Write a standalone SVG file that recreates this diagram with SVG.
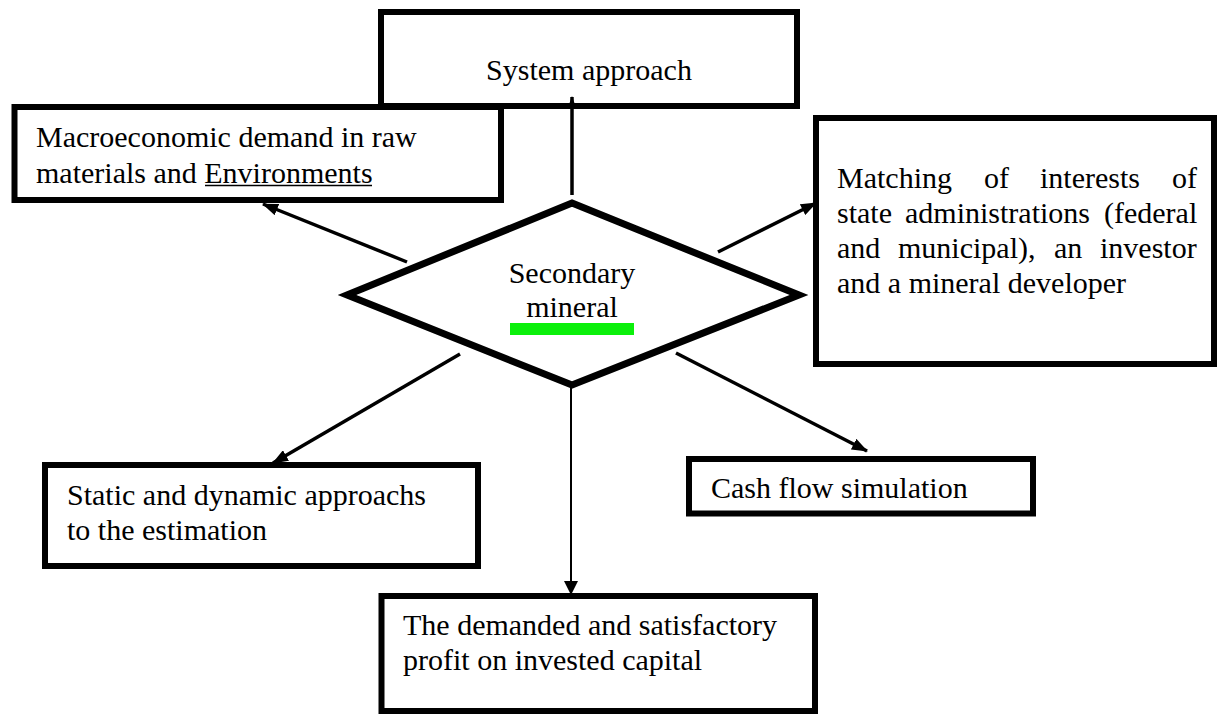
<svg xmlns="http://www.w3.org/2000/svg" width="1218" height="715" viewBox="0 0 1218 715">
<style>
.box{fill:#fff;stroke:#000;stroke-width:6}
.dia{fill:#fff;stroke:#000;stroke-width:7;stroke-linejoin:miter}
.t{font-family:"Liberation Serif","Times New Roman",serif;font-size:30px;fill:#000}
.c{fill:none;stroke:#000;stroke-width:3.5}
.thin{fill:none;stroke:#000;stroke-width:2}
.ul{stroke:#000;stroke-width:1.5}
</style>
<defs>
<marker id="arr" markerUnits="userSpaceOnUse" viewBox="0 0 16 12" markerWidth="16" markerHeight="12" refX="15" refY="6" orient="auto">
<path d="M0,0 L16,6 L0,12 z" fill="#000"/>
</marker>
<marker id="arrS" markerUnits="userSpaceOnUse" viewBox="0 0 13 9" markerWidth="13" markerHeight="9" refX="12" refY="4.5" orient="auto">
<path d="M0,0 L13,4.5 L0,9 z" fill="#000"/>
</marker>
<marker id="arrD" markerUnits="userSpaceOnUse" viewBox="0 0 14 14" markerWidth="14" markerHeight="14" refX="13" refY="7" orient="auto">
<path d="M0,0 L14,7 L0,14 z" fill="#000"/>
</marker>
</defs>

<g id="system-approach">
<rect class="box" x="381" y="12" width="416" height="94"/>
<text class="t" x="589" y="80" text-anchor="middle">System approach</text>
</g>

<g id="macroeconomic">
<rect class="box" x="14.5" y="107" width="486.5" height="93"/>
<text class="t" x="36" y="147">Macroeconomic demand in raw</text>
<text class="t" x="36" y="183">materials and Environments</text>
<line class="ul" x1="205" y1="185.5" x2="372" y2="185.5"/>
</g>

<g id="matching">
<rect class="box" x="816" y="118" width="398" height="246"/>
<text class="t" y="188"><tspan x="837">Matching</tspan><tspan x="984">of</tspan><tspan x="1040">interests</tspan><tspan x="1172">of</tspan></text>
<text class="t" y="223"><tspan x="837">state</tspan><tspan x="905">administrations</tspan><tspan x="1104">(federal</tspan></text>
<text class="t" y="258"><tspan x="837">and</tspan><tspan x="898">municipal),</tspan><tspan x="1054">an</tspan><tspan x="1100">investor</tspan></text>
<text class="t" x="837" y="293">and a mineral developer</text>
</g>

<g id="secondary-mineral">
<polygon class="dia" points="572,203 799,295 572,385 347,295"/>
<text class="t" x="572" y="283" text-anchor="middle">Secondary</text>
<text class="t" x="572" y="317" text-anchor="middle">mineral</text>
<rect x="510" y="323" width="124" height="12" fill="#0bf00b"/>
</g>

<g id="static-dynamic">
<rect class="box" x="45" y="465" width="433" height="101"/>
<text class="t" x="67" y="505">Static and dynamic approachs</text>
<text class="t" x="67" y="540">to the estimation</text>
</g>

<g id="cash-flow">
<rect class="box" x="689" y="459" width="344" height="54.5"/>
<text class="t" x="711" y="498">Cash flow simulation</text>
</g>

<g id="profit">
<rect class="box" x="381.5" y="596" width="433.5" height="115"/>
<text class="t" x="403" y="635">The demanded and satisfactory</text>
<text class="t" x="403" y="670">profit on invested capital</text>
</g>

<g id="connectors">
<line class="c" x1="572" y1="195" x2="572" y2="97" marker-end="url(#arrS)"/>
<line class="c" x1="407" y1="262" x2="263" y2="204" marker-end="url(#arr)"/>
<line class="c" x1="718" y1="252" x2="816" y2="203" marker-end="url(#arr)"/>
<line class="c" x1="460" y1="354" x2="273" y2="463" marker-end="url(#arr)"/>
<line class="c" x1="676" y1="353" x2="867" y2="451" marker-end="url(#arr)"/>
<line class="thin" x1="571" y1="388" x2="571" y2="594" marker-end="url(#arrD)"/>
</g>
</svg>
